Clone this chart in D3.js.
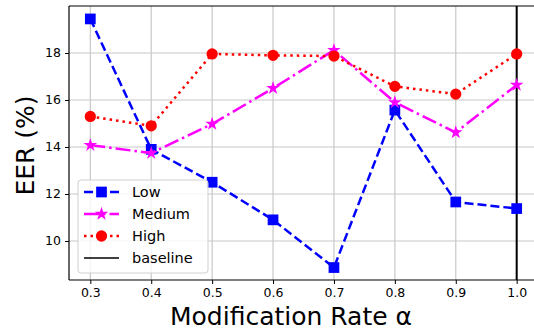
<!DOCTYPE html>
<html>
<head>
<meta charset="utf-8">
<script src="https://cdn.jsdelivr.net/npm/d3@7"></script>
<style>
  body { margin: 0; background: #fff; }
  svg { display: block; font-family: "DejaVu Sans", sans-serif; }
</style>
</head>
<body>
<div id="chart"></div>
<script>
// modification rates
const rates = [0.3, 0.4, 0.5, 0.6, 0.7, 0.8, 0.9, 1.0];
const lowEER = [19.45, 13.9, 12.5, 10.9, 8.87, 15.57, 11.66, 11.38];
const mediumEER = [14.08, 13.74, 14.98, 16.5, 18.12, 15.9, 14.62, 16.64];
const highEER = [15.3, 14.9, 17.96, 17.9, 17.87, 16.58, 16.25, 17.96];
const baselineRate = 1.0;
const xTicks = [0.3, 0.4, 0.5, 0.6, 0.7, 0.8, 0.9, 1.0];
const yTicks = [10, 12, 14, 16, 18];

const width = 534, height = 331;
const margin = { top: 6, right: -4, bottom: 51, left: 69 };
const w = width - margin.left - margin.right;
const h = height - margin.top - margin.bottom;

const svg = d3.select('#chart').append('svg')
  .attr('width', width)
  .attr('height', height);

const g = svg.append('g')
  .attr('transform', `translate(${margin.left},${margin.top})`);

const x = d3.scaleLinear().domain([0.265, 1.035]).range([0, w]);
const y = d3.scaleLinear().domain([8.34, 20.0]).range([h, 0]);

// grid
g.append('g').selectAll('line').data(xTicks).join('line')
  .attr('x1', d => x(d)).attr('x2', d => x(d))
  .attr('y1', 0).attr('y2', h)
  .attr('stroke', '#c8c8c8').attr('stroke-width', 1.2);
g.append('g').selectAll('line').data(yTicks).join('line')
  .attr('y1', d => y(d)).attr('y2', d => y(d))
  .attr('x1', 0).attr('x2', w)
  .attr('stroke', '#c8c8c8').attr('stroke-width', 1.2);

// axes
const xAxis = g.append('g')
  .attr('transform', `translate(0,${h})`)
  .call(d3.axisBottom(x).tickValues(xTicks).tickFormat(d3.format('.1f')).tickSize(4).tickPadding(4));
const yAxis = g.append('g')
  .call(d3.axisLeft(y).tickValues(yTicks).tickSize(4).tickPadding(4));
[xAxis, yAxis].forEach(a => {
  a.select('.domain').attr('stroke', '#000').attr('stroke-width', 1.2);
  a.selectAll('text').attr('font-size', 12.5).attr('fill', '#000')
    .attr('font-family', '"DejaVu Sans", sans-serif');
  a.selectAll('.tick line').attr('stroke', '#000');
});
yAxis.select('.domain').attr('d', `M0,${h}V0`);
xAxis.select('.domain').attr('d', `M0,0H${w}`);

// top spine
g.append('line')
  .attr('x1', 0).attr('x2', w).attr('y1', 0).attr('y2', 0)
  .attr('stroke', '#000').attr('stroke-width', 1.2);

const series = [
  { name: 'Low', values: lowEER, color: '#0000ff', dash: '9,4', symbol: d3.symbolSquare, size: 115 },
  { name: 'Medium', values: mediumEER, color: '#ff00ff', dash: '15,4,2.5,4', symbol: d3.symbolStar, size: 58 },
  { name: 'High', values: highEER, color: '#ff0000', dash: '2.5,4', symbol: d3.symbolCircle, size: 100 }
];

const line = d3.line()
  .x(d => x(d[0]))
  .y(d => y(d[1]));

// baseline
g.append('line')
  .attr('x1', x(baselineRate)).attr('x2', x(baselineRate))
  .attr('y1', 0).attr('y2', h)
  .attr('stroke', '#000').attr('stroke-width', 2);

series.forEach(s => {
  const pts = rates.map((r, i) => [r, s.values[i]]);
  g.append('path')
    .datum(pts)
    .attr('fill', 'none')
    .attr('stroke', s.color)
    .attr('stroke-width', 2.5)
    .attr('stroke-dasharray', s.dash)
    .attr('d', line);
  g.append('g').selectAll('path').data(pts).join('path')
    .attr('transform', d => `translate(${x(d[0])},${y(d[1])})`)
    .attr('d', d3.symbol().type(s.symbol).size(s.size))
    .attr('fill', s.color);
});

// legend
const lg = g.append('g').attr('transform', `translate(${78 - margin.left},${180 - margin.top})`);
lg.append('rect')
  .attr('width', 130).attr('height', 93).attr('rx', 3)
  .attr('fill', '#fff').attr('fill-opacity', 0.8)
  .attr('stroke', '#d0d0d0');
const legendItems = series.concat([{ name: 'baseline', color: '#000', dash: null }]);
legendItems.forEach((s, i) => {
  const row = lg.append('g').attr('transform', `translate(0,${12 + i * 22})`);
  row.append('line')
    .attr('x1', 6).attr('x2', 41).attr('y1', 0).attr('y2', 0)
    .attr('stroke', s.color).attr('stroke-width', s.dash ? 2.5 : 1.6)
    .attr('stroke-dasharray', s.dash);
  if (s.symbol) {
    row.append('path')
      .attr('transform', 'translate(23.5,0)')
      .attr('d', d3.symbol().type(s.symbol).size(s.size))
      .attr('fill', s.color);
  }
  row.append('text')
    .attr('x', 54).attr('y', 0).attr('dy', '0.35em')
    .attr('font-size', 14.5)
    .text(s.name);
});

// axis titles
svg.append('text')
  .attr('x', 291).attr('y', 325)
  .attr('text-anchor', 'middle')
  .attr('font-size', 25)
  .text('Modification Rate α');
svg.append('text')
  .attr('transform', 'translate(34,145.5) rotate(-90)')
  .attr('text-anchor', 'middle')
  .attr('font-size', 25)
  .text('EER (%)');
</script>
</body>
</html>
